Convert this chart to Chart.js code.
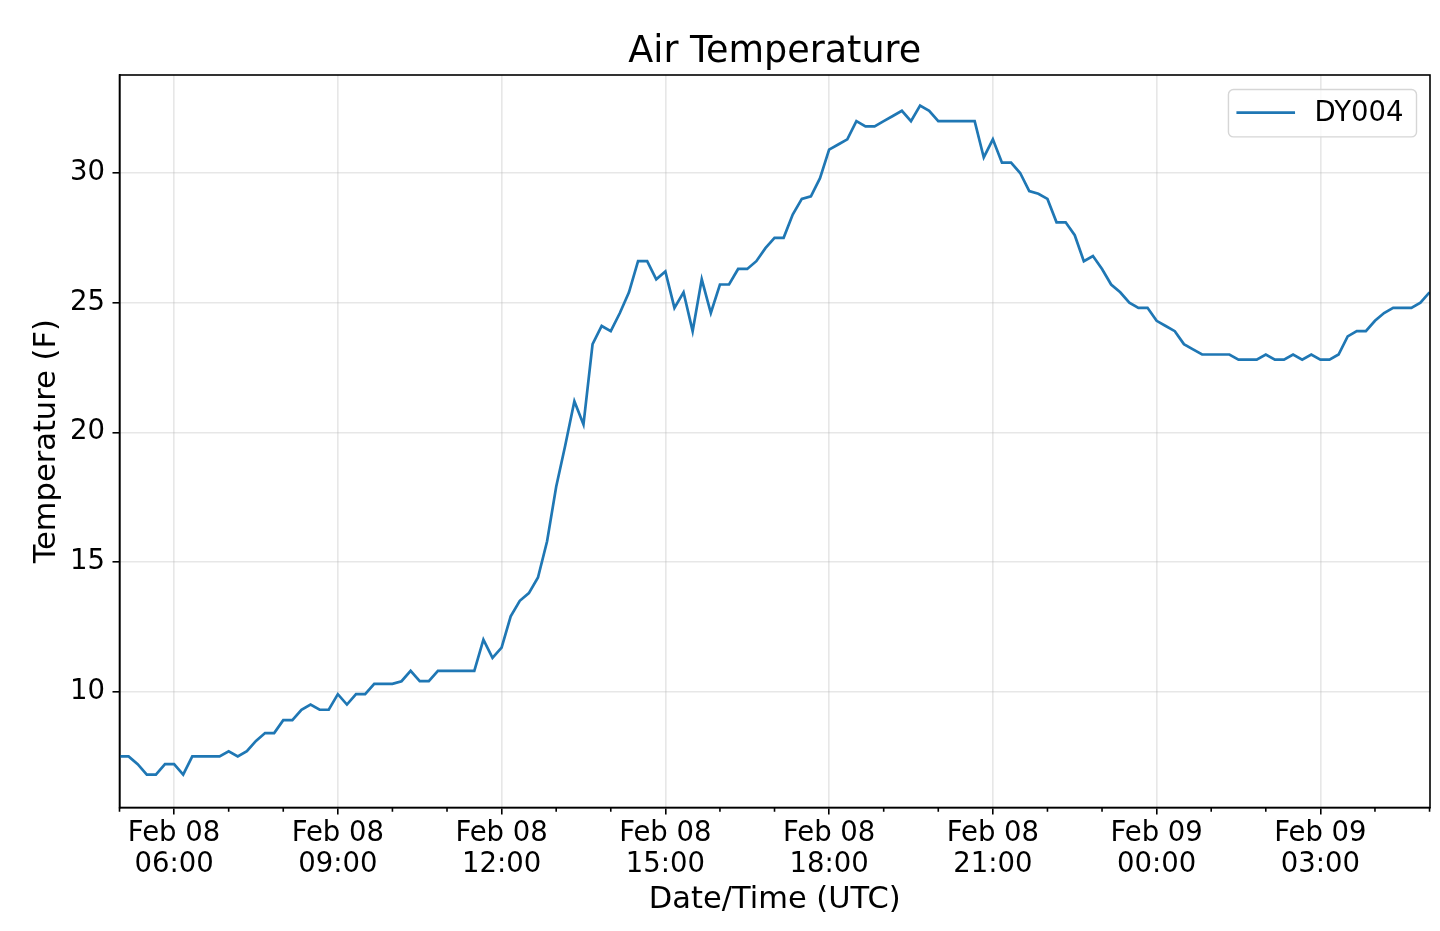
<!DOCTYPE html>
<html>
<head>
<meta charset="utf-8">
<script src="https://cdn.jsdelivr.net/npm/chart.js@4.4.1/dist/chart.umd.min.js"></script>
<style>
html,body{margin:0;padding:0;background:#fff;}
#wrap{width:1440px;height:931px;}
</style>
</head>
<body>
<div id="wrap"><canvas id="c" width="1440" height="931"></canvas></div>
<script>
// ---- data ----
const seriesLabel = "DY004";
const chartTitle = "Air Temperature";
const xAxisTitle = "Date/Time (UTC)";
const yAxisTitle = "Temperature (F)";
// observation times: minutes after Feb 08 00:00 UTC, first obs 05:00, every 10 minutes
const startMinute = 300;
const stepMinutes = 10;
const temperatures = [
  7.5, 7.5, 7.2, 6.8, 6.8, 7.2, 7.2, 6.8, 7.5, 7.5, 7.5, 7.5,
  7.7, 7.5, 7.7, 8.1, 8.4, 8.4, 8.9, 8.9, 9.3, 9.5, 9.3, 9.3,
  9.9, 9.5, 9.9, 9.9, 10.3, 10.3, 10.3, 10.4, 10.8, 10.4, 10.4, 10.8,
  10.8, 10.8, 10.8, 10.8, 12.0, 11.3, 11.7, 12.9, 13.5, 13.8, 14.4, 15.8,
  17.9, 19.5, 21.2, 20.3, 23.4, 24.1, 23.9, 24.6, 25.4, 26.6, 26.6, 25.9,
  26.2, 24.8, 25.4, 23.9, 25.9, 24.6, 25.7, 25.7, 26.3, 26.3, 26.6, 27.1,
  27.5, 27.5, 28.4, 29.0, 29.1, 29.8, 30.9, 31.1, 31.3, 32.0, 31.8, 31.8,
  32.0, 32.2, 32.4, 32.0, 32.6, 32.4, 32.0, 32.0, 32.0, 32.0, 32.0, 30.6,
  31.3, 30.4, 30.4, 30.0, 29.3, 29.2, 29.0, 28.1, 28.1, 27.6, 26.6, 26.8,
  26.3, 25.7, 25.4, 25.0, 24.8, 24.8, 24.3, 24.1, 23.9, 23.4, 23.2, 23.0,
  23.0, 23.0, 23.0, 22.8, 22.8, 22.8, 23.0, 22.8, 22.8, 23.0, 22.8, 23.0,
  22.8, 22.8, 23.0, 23.7, 23.9, 23.9, 24.3, 24.6, 24.8, 24.8, 24.8, 25.0,
  25.4
];
const xMin = 300, xMax = 1740.5;
const yMin = 5.53, yMax = 33.78;
const tickValues = [360, 540, 720, 900, 1080, 1260, 1440, 1620];
const tickDates = ["Feb 08", "Feb 08", "Feb 08", "Feb 08", "Feb 08", "Feb 08", "Feb 09", "Feb 09"];
const tickTimes = ["06:00", "09:00", "12:00", "15:00", "18:00", "21:00", "00:00", "03:00"];
const minorTickValues = [300, 420, 480, 600, 660, 780, 840, 960, 1020, 1140, 1200, 1320, 1380, 1500, 1560, 1680, 1740];
const yTickValues = [10, 15, 20, 25, 30];

const points = temperatures.map((v, i) => ({x: startMinute + i * stepMinutes, y: v}));

const FONT = "'DejaVu Sans', 'Liberation Sans', sans-serif";
const LINE_COLOR = '#1f77b4';
const GRID_COLOR = 'rgba(176,176,176,0.3)';

const framePlugin = {
  id: 'frame',
  afterDraw(chart) {
    const {ctx, chartArea: a, scales} = chart;
    const x = scales.x;
    ctx.save();
    // spines
    ctx.strokeStyle = '#000';
    ctx.lineWidth = 1.6;
    ctx.strokeRect(a.left, a.top, a.right - a.left, a.bottom - a.top);
    // minor ticks
    ctx.beginPath();
    minorTickValues.forEach(v => {
      const px = x.getPixelForValue(v);
      ctx.moveTo(px, a.bottom);
      ctx.lineTo(px, a.bottom + 4.3);
    });
    ctx.stroke();
    // legend
    const ds = chart.data.datasets[0];
    ctx.font = "27.5px " + FONT;
    const tw = ctx.measureText(ds.label).width;
    const padL = 8, lineW = 58.6, gap = 19.5, padR = 13, h = 47.4;
    const w = padL + lineW + gap + tw + padR;
    const right = a.right - 13.5, top = a.top + 14.5;
    const left = right - w;
    const r = 5;
    ctx.beginPath();
    ctx.moveTo(left + r, top);
    ctx.lineTo(right - r, top);
    ctx.arcTo(right, top, right, top + r, r);
    ctx.lineTo(right, top + h - r);
    ctx.arcTo(right, top + h, right - r, top + h, r);
    ctx.lineTo(left + r, top + h);
    ctx.arcTo(left, top + h, left, top + h - r, r);
    ctx.lineTo(left, top + r);
    ctx.arcTo(left, top, left + r, top, r);
    ctx.closePath();
    ctx.fillStyle = 'rgba(255,255,255,0.8)';
    ctx.fill();
    ctx.strokeStyle = '#d6d6d6';
    ctx.lineWidth = 1.4;
    ctx.stroke();
    const cy = top + h / 2 - 0.5;
    ctx.beginPath();
    ctx.moveTo(left + padL, cy);
    ctx.lineTo(left + padL + lineW, cy);
    ctx.strokeStyle = ds.borderColor;
    ctx.lineWidth = ds.borderWidth;
    ctx.stroke();
    ctx.fillStyle = '#000';
    ctx.textBaseline = 'middle';
    ctx.textAlign = 'left';
    ctx.fillText(ds.label, left + padL + lineW + gap, cy + 1);
    ctx.restore();
  }
};

new Chart(document.getElementById('c'), {
  type: 'line',
  data: {
    datasets: [{
      label: seriesLabel,
      data: points,
      borderColor: LINE_COLOR,
      backgroundColor: LINE_COLOR,
      borderWidth: 2.7,
      pointRadius: 0,
      pointHoverRadius: 0,
      tension: 0,
      fill: false
    }]
  },
  options: {
    responsive: false,
    animation: false,
    devicePixelRatio: 1,
    layout: {padding: {left: 0, right: 10, top: 0, bottom: 0}},
    plugins: {
      legend: {display: false},
      tooltip: {enabled: false},
      title: {
        display: true,
        fullSize: false,
        text: chartTitle,
        color: '#000',
        font: {family: FONT, size: 36.5, weight: 'normal', lineHeight: 1.2},
        padding: {top: 30.5, bottom: 0.7}
      }
    },
    scales: {
      x: {
        type: 'linear',
        min: xMin,
        max: xMax,
        afterBuildTicks: s => { s.ticks = tickValues.map(v => ({value: v})); },
        afterFit: s => { s.height = 123.5; },
        ticks: {
          autoSkip: false,
          maxRotation: 0,
          minRotation: 0,
          padding: 3.7,
          color: '#000',
          font: {family: FONT, size: 27.5, lineHeight: 1.127},
          callback: (v) => {
            const k = tickValues.indexOf(v);
            return k < 0 ? '' : [tickDates[k], tickTimes[k]];
          }
        },
        grid: {color: GRID_COLOR, lineWidth: 1.6, tickColor: '#000', tickLength: 7, tickWidth: 1.6},
        border: {display: true, color: '#000', width: 1.6},
        title: {
          display: true,
          text: xAxisTitle,
          color: '#000',
          font: {family: FONT, size: 30.5, lineHeight: 1.2},
          padding: {top: 0, bottom: 13}
        }
      },
      y: {
        type: 'linear',
        min: yMin,
        max: yMax,
        afterBuildTicks: s => { s.ticks = yTickValues.map(v => ({value: v})); },
        afterFit: s => { s.width = 119.5; },
        ticks: {
          padding: 7.5,
          color: '#000',
          font: {family: FONT, size: 27.5}
        },
        grid: {color: GRID_COLOR, lineWidth: 1.6, tickColor: '#000', tickLength: 7, tickWidth: 1.6},
        border: {display: true, color: '#000', width: 1.6},
        title: {
          display: true,
          text: yAxisTitle,
          color: '#000',
          font: {family: FONT, size: 30.5, lineHeight: 1.2},
          padding: {top: 28.5, bottom: 0}
        }
      }
    }
  },
  plugins: [framePlugin]
});
</script>
</body>
</html>
